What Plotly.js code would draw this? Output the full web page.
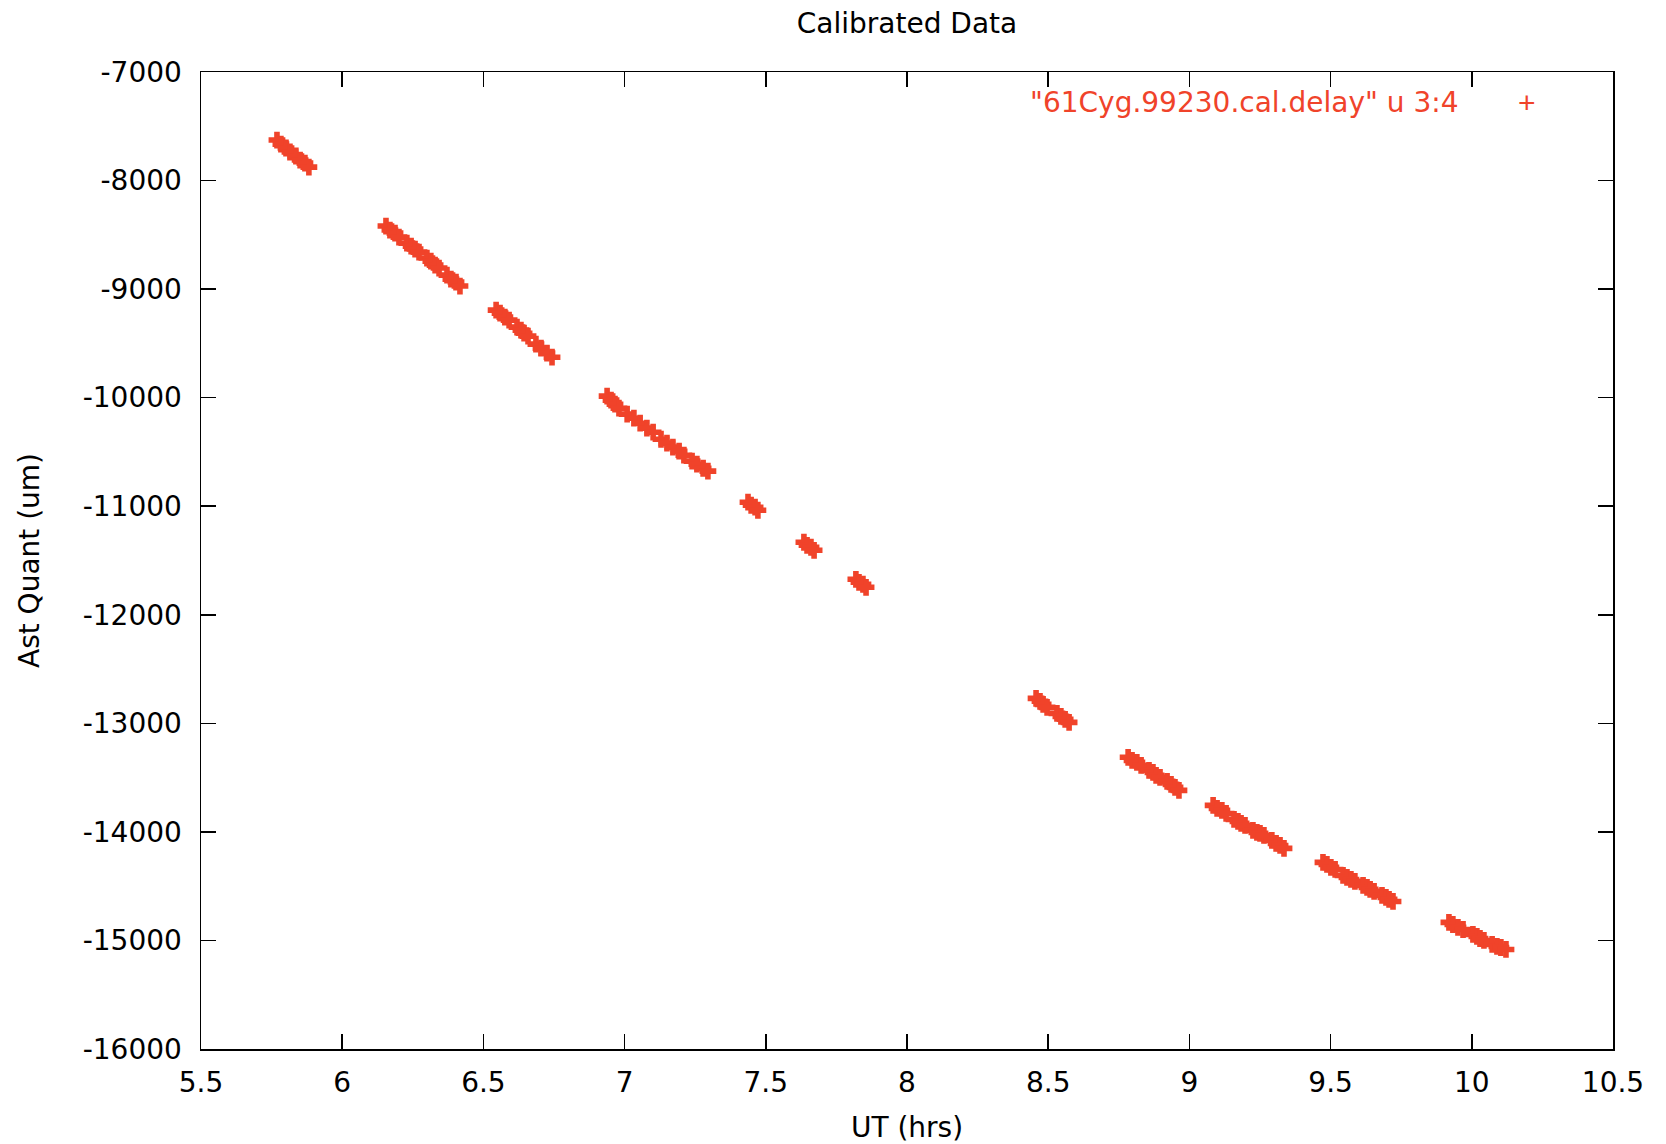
<!DOCTYPE html>
<html>
<head>
<meta charset="utf-8">
<script src="https://cdn.plot.ly/plotly-3.0.1.min.js"></script>
<style>
  html, body { margin: 0; padding: 0; background: #ffffff; }
  #chart { width: 1666px; height: 1144px; }
</style>
</head>
<body>
<div id="chart"></div>
<script>
// UT (hrs) of each calibrated delay measurement
const ut = [
  5.769, 5.783, 5.801, 5.815, 5.836, 5.851, 5.868, 5.882,
  6.155, 6.169, 6.187, 6.201, 6.229, 6.244, 6.258, 6.272, 6.300, 6.314, 6.329, 6.343, 6.371, 6.385, 6.403, 6.417,
  6.545, 6.559, 6.576, 6.591, 6.619, 6.633, 6.644, 6.658, 6.686, 6.704, 6.725, 6.743,
  6.938, 6.952, 6.966, 6.980, 7.009, 7.033, 7.055, 7.079, 7.101, 7.129, 7.150, 7.171, 7.193, 7.210, 7.239, 7.256, 7.278, 7.295,
  7.437, 7.448, 7.462, 7.472,
  7.635, 7.646, 7.660, 7.671,
  7.819, 7.830, 7.844, 7.855,
  8.457, 8.471, 8.482, 8.496, 8.531, 8.545, 8.560, 8.574,
  8.783, 8.797, 8.814, 8.829, 8.857, 8.871, 8.882, 8.896, 8.921, 8.935, 8.949, 8.963,
  9.084, 9.098, 9.115, 9.130, 9.158, 9.172, 9.183, 9.197, 9.225, 9.239, 9.250, 9.264, 9.292, 9.307, 9.321, 9.335,
  9.473, 9.487, 9.501, 9.516, 9.544, 9.558, 9.572, 9.586, 9.615, 9.629, 9.640, 9.654, 9.682, 9.696, 9.707, 9.721,
  9.919, 9.933, 9.951, 9.969, 10.004, 10.018, 10.029, 10.043, 10.072, 10.089, 10.103, 10.121
];

// Ast Quant (um) of each measurement
const astQuant = [
  -7627, -7664, -7700, -7737, -7774, -7811, -7839, -7876,
  -8419, -8456, -8484, -8521, -8576, -8604, -8631, -8659, -8714, -8742, -8779, -8806, -8871, -8908, -8935, -8972,
  -9194, -9221, -9258, -9286, -9350, -9378, -9406, -9433, -9507, -9544, -9590, -9627,
  -9986, -10023, -10060, -10097, -10152, -10189, -10235, -10281, -10318, -10383, -10419, -10456, -10493, -10530, -10585, -10613, -10650, -10677,
  -10963, -10991, -11009, -11037,
  -11332, -11360, -11378, -11406,
  -11673, -11701, -11719, -11747,
  -12770, -12797, -12825, -12853, -12908, -12936, -12963, -12991,
  -13313, -13341, -13360, -13387, -13433, -13452, -13479, -13498, -13535, -13562, -13590, -13618,
  -13756, -13783, -13802, -13830, -13885, -13903, -13922, -13940, -13986, -14005, -14014, -14032, -14079, -14106, -14125, -14152,
  -14281, -14300, -14327, -14346, -14401, -14419, -14438, -14456, -14493, -14512, -14530, -14548, -14585, -14604, -14622, -14641,
  -14834, -14853, -14880, -14899, -14945, -14963, -14982, -15000, -15037, -15055, -15065, -15083
];

const xTickVals = [5.5, 6, 6.5, 7, 7.5, 8, 8.5, 9, 9.5, 10, 10.5];
const xTickText = ["5.5", "6", "6.5", "7", "7.5", "8", "8.5", "9", "9.5", "10", "10.5"];
const yTickVals = [-16000, -15000, -14000, -13000, -12000, -11000, -10000, -9000, -8000, -7000];
const yTickText = ["-16000", "-15000", "-14000", "-13000", "-12000", "-11000", "-10000", "-9000", "-8000", "-7000"];

const seriesName = '"61Cyg.99230.cal.delay" u 3:4';
const chartTitle = "Calibrated Data";
const xTitle = "UT (hrs)";
const yTitle = "Ast Quant (um)";

const red = "#f0432a";
const fontFamily = "DejaVu Sans, Liberation Sans, sans-serif";
const fs = 28;

const trace = {
  x: ut,
  y: astQuant,
  type: "scatter",
  mode: "markers",
  name: seriesName,
  showlegend: false,
  marker: { symbol: "cross", size: 14, color: red, line: { width: 0 } }
};

const axisCommon = {
  showgrid: false,
  zeroline: false,
  showline: true,
  linecolor: "#000000",
  linewidth: 1.5,
  mirror: "ticks",
  ticks: "inside",
  ticklen: 15,
  tickwidth: 1.5,
  tickcolor: "#000000",
  tickfont: { family: fontFamily, size: fs, color: "#000000" },
  automargin: false
};

const layout = {
  width: 1666,
  height: 1144,
  margin: { l: 201, r: 53, t: 72, b: 95, pad: 0 },
  paper_bgcolor: "#ffffff",
  plot_bgcolor: "#ffffff",
  font: { family: fontFamily, size: fs, color: "#000000" },
  title: {
    text: chartTitle,
    font: { family: fontFamily, size: fs, color: "#000000" },
    x: 0.5, xref: "paper", xanchor: "center",
    y: 1 - 23 / 1144, yref: "container", yanchor: "middle"
  },
  xaxis: Object.assign({}, axisCommon, {
    range: [5.5, 10.5],
    tickmode: "array",
    tickvals: xTickVals,
    ticktext: xTickText,
    ticklabelstandoff: 8,
    title: { text: xTitle, font: { family: fontFamily, size: fs, color: "#000000" }, standoff: 22 }
  }),
  yaxis: Object.assign({}, axisCommon, {
    range: [-16000, -7000],
    tickmode: "array",
    tickvals: yTickVals,
    ticktext: yTickText,
    ticklabelstandoff: 12,
    title: { text: yTitle, font: { family: fontFamily, size: fs, color: "#000000" }, standoff: 35 }
  }),
  annotations: [
    {
      text: seriesName,
      xref: "paper", yref: "paper",
      x: (1461 - 201) / 1412, y: (1049 - 103) / 977,
      xanchor: "right", yanchor: "middle",
      showarrow: false,
      font: { family: fontFamily, size: fs, color: red }
    },
    {
      text: "+",
      xref: "paper", yref: "paper",
      x: (1527 - 201) / 1412, y: (1049 - 103) / 977,
      xanchor: "center", yanchor: "middle",
      showarrow: false,
      font: { family: "Liberation Sans, sans-serif", size: 30, color: red, weight: 300 }
    }
  ]
};

Plotly.newPlot("chart", [trace], layout, { displayModeBar: false, staticPlot: true });
</script>
</body>
</html>
